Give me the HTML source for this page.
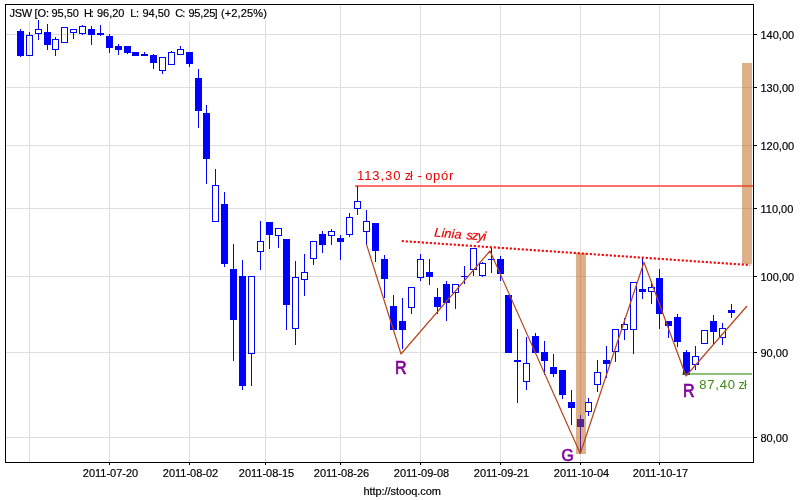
<!DOCTYPE html>
<html><head><meta charset="utf-8"><title>JSW</title>
<style>html,body{margin:0;padding:0;background:#fff;}body{width:800px;height:500px;overflow:hidden;font-family:"Liberation Sans",sans-serif;}svg{display:block;will-change:transform;}</style>
</head><body>
<svg width="800" height="500" viewBox="0 0 800 500">
<rect x="0" y="0" width="800" height="500" fill="#fff"/>
<g shape-rendering="crispEdges" fill="#dedede">
<rect x="29" y="5" width="1" height="457"/>
<rect x="109" y="5" width="1" height="457"/>
<rect x="189" y="5" width="1" height="457"/>
<rect x="265" y="5" width="1" height="457"/>
<rect x="340" y="5" width="1" height="457"/>
<rect x="420" y="5" width="1" height="457"/>
<rect x="500" y="5" width="1" height="457"/>
<rect x="580" y="5" width="1" height="457"/>
<rect x="659" y="5" width="1" height="457"/>
<rect x="6" y="34" width="747" height="1"/>
<rect x="6" y="87" width="747" height="1"/>
<rect x="6" y="145" width="747" height="1"/>
<rect x="6" y="208" width="747" height="1"/>
<rect x="6" y="276" width="747" height="1"/>
<rect x="6" y="352" width="747" height="1"/>
<rect x="6" y="437" width="747" height="1"/>
</g>
<rect x="6" y="5" width="264" height="16" fill="#fff" shape-rendering="crispEdges"/>
<rect x="355" y="185" width="398" height="2" fill="#ff7070" shape-rendering="crispEdges"/>
<g shape-rendering="crispEdges">
<rect x="20" y="29" width="1" height="2" fill="#00f"/>
<rect x="20" y="56" width="1" height="1" fill="#00f"/>
<rect x="17" y="31" width="7" height="25" fill="#00f"/>
<rect x="29" y="32" width="1" height="3" fill="#00f"/>
<rect x="26.5" y="35.5" width="6" height="20" fill="none" stroke="#00f" stroke-width="1"/>
<rect x="38" y="20" width="1" height="9" fill="#00f"/>
<rect x="38" y="34" width="1" height="6" fill="#00f"/>
<rect x="35.5" y="29.5" width="6" height="4" fill="none" stroke="#00f" stroke-width="1"/>
<rect x="47" y="24" width="1" height="8" fill="#00f"/>
<rect x="47" y="45" width="1" height="5" fill="#00f"/>
<rect x="44" y="32" width="7" height="13" fill="#00f"/>
<rect x="55" y="37" width="1" height="2" fill="#00f"/>
<rect x="55" y="50" width="1" height="6" fill="#00f"/>
<rect x="52.5" y="39.5" width="6" height="10" fill="none" stroke="#00f" stroke-width="1"/>
<rect x="61.5" y="27.5" width="6" height="15" fill="none" stroke="#00f" stroke-width="1"/>
<rect x="73" y="33" width="1" height="6" fill="#00f"/>
<rect x="70.5" y="29.5" width="6" height="3" fill="none" stroke="#00f" stroke-width="1"/>
<rect x="82" y="25" width="1" height="1" fill="#00f"/>
<rect x="82" y="34" width="1" height="1" fill="#00f"/>
<rect x="79.5" y="26.5" width="6" height="7" fill="none" stroke="#00f" stroke-width="1"/>
<rect x="91" y="26" width="1" height="3" fill="#00f"/>
<rect x="91" y="35" width="1" height="10" fill="#00f"/>
<rect x="88" y="29" width="7" height="6" fill="#00f"/>
<rect x="100" y="25" width="1" height="8" fill="#00f"/>
<rect x="100" y="35" width="1" height="1" fill="#00f"/>
<rect x="97" y="33" width="7" height="2" fill="#00f"/>
<rect x="109" y="34" width="1" height="2" fill="#00f"/>
<rect x="109" y="48" width="1" height="5" fill="#00f"/>
<rect x="106" y="36" width="7" height="12" fill="#00f"/>
<rect x="118" y="44" width="1" height="2" fill="#00f"/>
<rect x="118" y="50" width="1" height="5" fill="#00f"/>
<rect x="115" y="46" width="7" height="4" fill="#00f"/>
<rect x="127" y="53" width="1" height="1" fill="#00f"/>
<rect x="124" y="46" width="7" height="7" fill="#00f"/>
<rect x="132" y="52" width="7" height="4" fill="#00f"/>
<rect x="144" y="52" width="1" height="2" fill="#00f"/>
<rect x="141" y="54" width="7" height="2" fill="#00f"/>
<rect x="153" y="54" width="1" height="1" fill="#00f"/>
<rect x="153" y="63" width="1" height="6" fill="#00f"/>
<rect x="150" y="55" width="7" height="8" fill="#00f"/>
<rect x="162" y="71" width="1" height="3" fill="#00f"/>
<rect x="159.5" y="57.5" width="6" height="13" fill="none" stroke="#00f" stroke-width="1"/>
<rect x="171" y="51" width="1" height="1" fill="#00f"/>
<rect x="168.5" y="52.5" width="6" height="12" fill="none" stroke="#00f" stroke-width="1"/>
<rect x="180" y="46" width="1" height="3" fill="#00f"/>
<rect x="177.5" y="49.5" width="6" height="5" fill="none" stroke="#00f" stroke-width="1"/>
<rect x="189" y="64" width="1" height="3" fill="#00f"/>
<rect x="186" y="52" width="7" height="12" fill="#00f"/>
<rect x="198" y="69" width="1" height="9" fill="#00f"/>
<rect x="198" y="111" width="1" height="17" fill="#00f"/>
<rect x="195" y="78" width="7" height="33" fill="#00f"/>
<rect x="206" y="105" width="1" height="8" fill="#00f"/>
<rect x="206" y="159" width="1" height="25" fill="#00f"/>
<rect x="203" y="113" width="7" height="46" fill="#00f"/>
<rect x="215" y="169" width="1" height="16" fill="#00f"/>
<rect x="212.5" y="185.5" width="6" height="36" fill="none" stroke="#00f" stroke-width="1"/>
<rect x="224" y="192" width="1" height="12" fill="#00f"/>
<rect x="224" y="264" width="1" height="3" fill="#00f"/>
<rect x="221" y="204" width="7" height="60" fill="#00f"/>
<rect x="233" y="244" width="1" height="25" fill="#00f"/>
<rect x="233" y="320" width="1" height="41" fill="#00f"/>
<rect x="230" y="269" width="7" height="51" fill="#00f"/>
<rect x="242" y="260" width="1" height="16" fill="#00f"/>
<rect x="242" y="386" width="1" height="4" fill="#00f"/>
<rect x="239" y="276" width="7" height="110" fill="#00f"/>
<rect x="251" y="354" width="1" height="32" fill="#00f"/>
<rect x="248.5" y="276.5" width="6" height="77" fill="none" stroke="#00f" stroke-width="1"/>
<rect x="260" y="221" width="1" height="20" fill="#00f"/>
<rect x="260" y="252" width="1" height="18" fill="#00f"/>
<rect x="257.5" y="241.5" width="6" height="10" fill="none" stroke="#00f" stroke-width="1"/>
<rect x="269" y="235" width="1" height="14" fill="#00f"/>
<rect x="266" y="222" width="7" height="13" fill="#00f"/>
<rect x="278" y="236" width="1" height="12" fill="#00f"/>
<rect x="275.5" y="228.5" width="6" height="7" fill="none" stroke="#00f" stroke-width="1"/>
<rect x="286" y="305" width="1" height="25" fill="#00f"/>
<rect x="283" y="239" width="7" height="66" fill="#00f"/>
<rect x="295" y="261" width="1" height="16" fill="#00f"/>
<rect x="295" y="329" width="1" height="16" fill="#00f"/>
<rect x="292.5" y="277.5" width="6" height="51" fill="none" stroke="#00f" stroke-width="1"/>
<rect x="304" y="254" width="1" height="18" fill="#00f"/>
<rect x="304" y="280" width="1" height="16" fill="#00f"/>
<rect x="301.5" y="272.5" width="6" height="7" fill="none" stroke="#00f" stroke-width="1"/>
<rect x="313" y="259" width="1" height="6" fill="#00f"/>
<rect x="310.5" y="241.5" width="6" height="17" fill="none" stroke="#00f" stroke-width="1"/>
<rect x="322" y="231" width="1" height="3" fill="#00f"/>
<rect x="322" y="245" width="1" height="8" fill="#00f"/>
<rect x="319" y="234" width="7" height="11" fill="#00f"/>
<rect x="331" y="229" width="1" height="2" fill="#00f"/>
<rect x="331" y="236" width="1" height="9" fill="#00f"/>
<rect x="328.5" y="231.5" width="6" height="4" fill="none" stroke="#00f" stroke-width="1"/>
<rect x="340" y="235" width="1" height="3" fill="#00f"/>
<rect x="340" y="242" width="1" height="18" fill="#00f"/>
<rect x="337" y="238" width="7" height="4" fill="#00f"/>
<rect x="349" y="213" width="1" height="4" fill="#00f"/>
<rect x="349" y="235" width="1" height="2" fill="#00f"/>
<rect x="346.5" y="217.5" width="6" height="17" fill="none" stroke="#00f" stroke-width="1"/>
<rect x="357" y="186" width="1" height="15" fill="#00f"/>
<rect x="357" y="209" width="1" height="6" fill="#00f"/>
<rect x="354.5" y="201.5" width="6" height="7" fill="none" stroke="#00f" stroke-width="1"/>
<rect x="366" y="210" width="1" height="11" fill="#00f"/>
<rect x="366" y="232" width="1" height="13" fill="#00f"/>
<rect x="363.5" y="221.5" width="6" height="10" fill="none" stroke="#00f" stroke-width="1"/>
<rect x="375" y="251" width="1" height="11" fill="#00f"/>
<rect x="372" y="223" width="7" height="28" fill="#00f"/>
<rect x="384" y="255" width="1" height="4" fill="#00f"/>
<rect x="384" y="279" width="1" height="19" fill="#00f"/>
<rect x="381" y="259" width="7" height="20" fill="#00f"/>
<rect x="393" y="295" width="1" height="11" fill="#00f"/>
<rect x="390" y="306" width="7" height="24" fill="#00f"/>
<rect x="402" y="298" width="1" height="23" fill="#00f"/>
<rect x="402" y="330" width="1" height="19" fill="#00f"/>
<rect x="399" y="321" width="7" height="9" fill="#00f"/>
<rect x="411" y="308" width="1" height="6" fill="#00f"/>
<rect x="408.5" y="287.5" width="6" height="20" fill="none" stroke="#00f" stroke-width="1"/>
<rect x="420" y="254" width="1" height="5" fill="#00f"/>
<rect x="420" y="278" width="1" height="3" fill="#00f"/>
<rect x="417.5" y="259.5" width="6" height="18" fill="none" stroke="#00f" stroke-width="1"/>
<rect x="429" y="259" width="1" height="13" fill="#00f"/>
<rect x="429" y="277" width="1" height="8" fill="#00f"/>
<rect x="426" y="272" width="7" height="5" fill="#00f"/>
<rect x="437" y="288" width="1" height="9" fill="#00f"/>
<rect x="437" y="307" width="1" height="7" fill="#00f"/>
<rect x="434" y="297" width="7" height="10" fill="#00f"/>
<rect x="446" y="281" width="1" height="3" fill="#00f"/>
<rect x="446" y="303" width="1" height="18" fill="#00f"/>
<rect x="443" y="284" width="7" height="19" fill="#00f"/>
<rect x="455" y="293" width="1" height="16" fill="#00f"/>
<rect x="452.5" y="284.5" width="6" height="8" fill="none" stroke="#00f" stroke-width="1"/>
<rect x="464" y="266" width="1" height="10" fill="#00f"/>
<rect x="464" y="277" width="1" height="7" fill="#00f"/>
<rect x="461" y="276" width="7" height="1" fill="#00f"/>
<rect x="473" y="270" width="1" height="6" fill="#00f"/>
<rect x="470.5" y="248.5" width="6" height="21" fill="none" stroke="#00f" stroke-width="1"/>
<rect x="482" y="262" width="1" height="1" fill="#00f"/>
<rect x="482" y="276" width="1" height="1" fill="#00f"/>
<rect x="479.5" y="263.5" width="6" height="12" fill="none" stroke="#00f" stroke-width="1"/>
<rect x="491" y="248" width="1" height="11" fill="#00f"/>
<rect x="491" y="260" width="1" height="13" fill="#00f"/>
<rect x="488" y="259" width="7" height="1" fill="#00f"/>
<rect x="500" y="256" width="1" height="3" fill="#00f"/>
<rect x="500" y="274" width="1" height="7" fill="#00f"/>
<rect x="497" y="259" width="7" height="15" fill="#00f"/>
<rect x="505" y="295" width="7" height="58" fill="#00f"/>
<rect x="517" y="329" width="1" height="31" fill="#00f"/>
<rect x="517" y="362" width="1" height="41" fill="#00f"/>
<rect x="514" y="360" width="7" height="2" fill="#00f"/>
<rect x="526" y="337" width="1" height="26" fill="#00f"/>
<rect x="526" y="382" width="1" height="8" fill="#00f"/>
<rect x="523.5" y="363.5" width="6" height="18" fill="none" stroke="#00f" stroke-width="1"/>
<rect x="535" y="333" width="1" height="3" fill="#00f"/>
<rect x="532" y="336" width="7" height="17" fill="#00f"/>
<rect x="544" y="341" width="1" height="11" fill="#00f"/>
<rect x="544" y="361" width="1" height="14" fill="#00f"/>
<rect x="541" y="352" width="7" height="9" fill="#00f"/>
<rect x="553" y="354" width="1" height="13" fill="#00f"/>
<rect x="553" y="374" width="1" height="3" fill="#00f"/>
<rect x="550" y="367" width="7" height="7" fill="#00f"/>
<rect x="562" y="395" width="1" height="4" fill="#00f"/>
<rect x="559" y="370" width="7" height="25" fill="#00f"/>
<rect x="571" y="390" width="1" height="12" fill="#00f"/>
<rect x="571" y="408" width="1" height="17" fill="#00f"/>
<rect x="568" y="402" width="7" height="6" fill="#00f"/>
<rect x="580" y="415" width="1" height="4" fill="#00f"/>
<rect x="580" y="427" width="1" height="26" fill="#00f"/>
<rect x="577" y="419" width="7" height="8" fill="#00f"/>
<rect x="588" y="398" width="1" height="4" fill="#00f"/>
<rect x="588" y="412" width="1" height="4" fill="#00f"/>
<rect x="585.5" y="402.5" width="6" height="9" fill="none" stroke="#00f" stroke-width="1"/>
<rect x="597" y="360" width="1" height="12" fill="#00f"/>
<rect x="597" y="385" width="1" height="7" fill="#00f"/>
<rect x="594.5" y="372.5" width="6" height="12" fill="none" stroke="#00f" stroke-width="1"/>
<rect x="606" y="346" width="1" height="14" fill="#00f"/>
<rect x="606" y="364" width="1" height="14" fill="#00f"/>
<rect x="603" y="360" width="7" height="4" fill="#00f"/>
<rect x="615" y="352" width="1" height="10" fill="#00f"/>
<rect x="612.5" y="329.5" width="6" height="22" fill="none" stroke="#00f" stroke-width="1"/>
<rect x="624" y="318" width="1" height="6" fill="#00f"/>
<rect x="624" y="330" width="1" height="10" fill="#00f"/>
<rect x="621.5" y="324.5" width="6" height="5" fill="none" stroke="#00f" stroke-width="1"/>
<rect x="633" y="330" width="1" height="24" fill="#00f"/>
<rect x="630.5" y="282.5" width="6" height="47" fill="none" stroke="#00f" stroke-width="1"/>
<rect x="642" y="258" width="1" height="31" fill="#00f"/>
<rect x="642" y="292" width="1" height="7" fill="#00f"/>
<rect x="639" y="289" width="7" height="3" fill="#00f"/>
<rect x="651" y="281" width="1" height="6" fill="#00f"/>
<rect x="651" y="292" width="1" height="12" fill="#00f"/>
<rect x="648.5" y="287.5" width="6" height="4" fill="none" stroke="#00f" stroke-width="1"/>
<rect x="659" y="269" width="1" height="9" fill="#00f"/>
<rect x="659" y="314" width="1" height="15" fill="#00f"/>
<rect x="656" y="278" width="7" height="36" fill="#00f"/>
<rect x="668" y="326" width="1" height="12" fill="#00f"/>
<rect x="665" y="321" width="7" height="5" fill="#00f"/>
<rect x="677" y="314" width="1" height="3" fill="#00f"/>
<rect x="677" y="342" width="1" height="5" fill="#00f"/>
<rect x="674" y="317" width="7" height="25" fill="#00f"/>
<rect x="686" y="350" width="1" height="2" fill="#00f"/>
<rect x="683" y="352" width="7" height="23" fill="#00f"/>
<rect x="695" y="346" width="1" height="10" fill="#00f"/>
<rect x="695" y="365" width="1" height="5" fill="#00f"/>
<rect x="692.5" y="356.5" width="6" height="8" fill="none" stroke="#00f" stroke-width="1"/>
<rect x="701.5" y="330.5" width="6" height="13" fill="none" stroke="#00f" stroke-width="1"/>
<rect x="713" y="315" width="1" height="6" fill="#00f"/>
<rect x="713" y="332" width="1" height="12" fill="#00f"/>
<rect x="710" y="321" width="7" height="11" fill="#00f"/>
<rect x="722" y="323" width="1" height="5" fill="#00f"/>
<rect x="722" y="338" width="1" height="7" fill="#00f"/>
<rect x="719.5" y="328.5" width="6" height="9" fill="none" stroke="#00f" stroke-width="1"/>
<rect x="731" y="304" width="1" height="6" fill="#00f"/>
<rect x="731" y="313" width="1" height="5" fill="#00f"/>
<rect x="728" y="310" width="7" height="3" fill="#00f"/>
</g>
<rect x="682" y="373" width="70" height="2" fill="rgba(40,140,0,0.535)" shape-rendering="crispEdges"/>
<g shape-rendering="crispEdges" fill="rgba(183,83,0,0.46)">
<rect x="576" y="253" width="10" height="201"/>
<rect x="742" y="63" width="10" height="201"/>
</g>
<polyline points="366.5,244.4 401,354 490,251 580.25,453.5 644,262.3 686,376 747,306" fill="none" stroke="#b8431a" stroke-width="1.2" stroke-linejoin="round"/>
<line x1="401.75" y1="241.05" x2="750.2" y2="265.1" stroke="#f00" stroke-width="2.15" stroke-dasharray="2.15 1.859"/>
<g shape-rendering="crispEdges" fill="#000">
<rect x="5" y="4" width="749" height="1"/>
<rect x="5" y="462" width="749" height="1"/>
<rect x="5" y="4" width="1" height="459"/>
<rect x="753" y="4" width="1" height="459"/>
<rect x="754" y="34" width="3" height="1"/>
<rect x="754" y="87" width="3" height="1"/>
<rect x="754" y="145" width="3" height="1"/>
<rect x="754" y="208" width="3" height="1"/>
<rect x="754" y="276" width="3" height="1"/>
<rect x="754" y="352" width="3" height="1"/>
<rect x="754" y="437" width="3" height="1"/>
<rect x="109" y="463" width="1" height="2"/>
<rect x="189" y="463" width="1" height="2"/>
<rect x="265" y="463" width="1" height="2"/>
<rect x="340" y="463" width="1" height="2"/>
<rect x="420" y="463" width="1" height="2"/>
<rect x="500" y="463" width="1" height="2"/>
<rect x="580" y="463" width="1" height="2"/>
<rect x="659" y="463" width="1" height="2"/>
</g>
<g font-family="'Liberation Sans', sans-serif" font-size="11" fill="#000" stroke="#000" stroke-width="0.18">
<text x="760.5" y="39">140,00</text>
<text x="760.5" y="92">130,00</text>
<text x="760.5" y="150">120,00</text>
<text x="760.5" y="213">110,00</text>
<text x="760.5" y="281">100,00</text>
<text x="760.5" y="357">90,00</text>
<text x="760.5" y="442">80,00</text>
<text x="110.5" y="477" text-anchor="middle">2011-07-20</text>
<text x="190.5" y="477" text-anchor="middle">2011-08-02</text>
<text x="266.5" y="477" text-anchor="middle">2011-08-15</text>
<text x="341.5" y="477" text-anchor="middle">2011-08-26</text>
<text x="421.5" y="477" text-anchor="middle">2011-09-08</text>
<text x="501.5" y="477" text-anchor="middle">2011-09-21</text>
<text x="581.5" y="477" text-anchor="middle">2011-10-04</text>
<text x="660.5" y="477" text-anchor="middle">2011-10-17</text>
<text x="402.2" y="495.3" text-anchor="middle" letter-spacing="-0.05">http://stooq.com</text>
<text x="9.6" y="17" letter-spacing="-0.4">JSW</text>
<text x="34.4" y="17" letter-spacing="0">[O:</text>
<text x="51.4" y="17" letter-spacing="0">95,50</text>
<text x="83.9" y="17" letter-spacing="-1">H:</text>
<text x="96.9" y="17" letter-spacing="0">96,20</text>
<text x="130.2" y="17" letter-spacing="-0.4">L:</text>
<text x="142.4" y="17" letter-spacing="0">94,50</text>
<text x="175.3" y="17" letter-spacing="-1">C:</text>
<text x="188.4" y="17" letter-spacing="-0.15">95,25</text>
<text x="214.5" y="17" letter-spacing="0">]</text>
<text x="220.9" y="17" letter-spacing="0.15">(+2,25%)</text>
</g>
<g font-family="'Liberation Sans', sans-serif">
<text x="357" y="180" font-size="13" fill="#ee0000" letter-spacing="0.4" xml:space="preserve"><tspan letter-spacing="0.92">113,30</tspan><tspan dx="0.8" letter-spacing="-0.9" font-size="12.5"> zł</tspan><tspan dx="2.1" letter-spacing="-0.15"> - </tspan><tspan letter-spacing="0.75">opór</tspan></text>
<text x="434" y="236.6" font-size="12.7" font-style="italic" fill="#ee0000" stroke="#ee0000" stroke-width="0.2" transform="rotate(4.5 434 236.6)" xml:space="preserve"><tspan letter-spacing="0.12">Linia</tspan><tspan dx="2.2" letter-spacing="-0.75"> szyi</tspan></text>
<text x="699.3" y="389" font-size="13" fill="#3c8c14" letter-spacing="0.3" xml:space="preserve"><tspan letter-spacing="0.8">87,40</tspan><tspan dx="0.2" letter-spacing="-0.9" font-size="12.5"> zł</tspan></text>
<text transform="translate(395.1 373.55) scale(0.9 1)" font-size="17.8" fill="#82009c" stroke="#82009c" stroke-width="0.7">R</text>
<text transform="translate(683.0 396.85) scale(0.9 1)" font-size="17.8" fill="#82009c" stroke="#82009c" stroke-width="0.7">R</text>
<text transform="translate(561.6 460.55) scale(0.93 1)" font-size="16.8" fill="#82009c" stroke="#82009c" stroke-width="0.7">G</text>
</g>
</svg>
</body></html>
